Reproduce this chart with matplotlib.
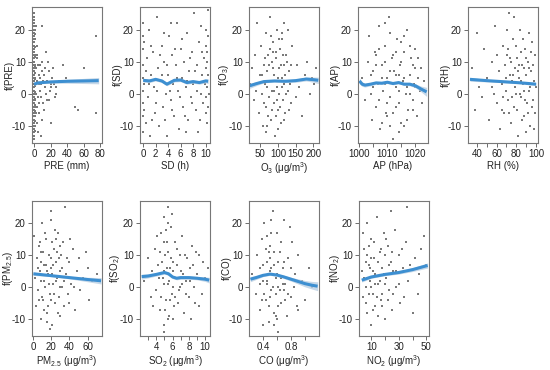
import numpy as np
import matplotlib
matplotlib.use("Agg")
import matplotlib.pyplot as plt

plt.rcParams['font.family'] = ['Liberation Sans', 'DejaVu Sans']
plt.rcParams['mathtext.fontset'] = 'custom'
plt.rcParams['mathtext.rm'] = 'Liberation Sans'
plt.rcParams['mathtext.it'] = 'Liberation Sans'
plt.rcParams['axes.unicode_minus'] = False

# partial residuals (estimated from the figure)
pre_pts = [(0, 25), (0, 24), (0, 23), (0, 22), (0, 21), (0, 20), (0, 19), (0, 18), (0, 17), (0, 16),
           (0, 15), (0, 14), (0, 13), (0, 12), (0, 11), (0, 10), (0, 9), (0, 8), (0, 7), (0, 6),
           (0, 5), (0, 4), (0, 3), (0, 2), (0, 1), (0, 0), (0, -1), (0, -2), (0, -3), (0, -4),
           (0, -5), (0, -6), (0, -7), (0, -8), (0, -9), (0, -10), (0, -11), (0, -12), (0, -13), (0, -14),
           (0.6, 18.5), (0.6, 14.5), (0.6, 11.5), (0.6, 8.5), (0.6, 6.5), (0.6, 4.5), (0.6, 2.5),
           (0.6, 0.5), (0.6, -1.5), (0.6, -3.5), (0.6, -5.5), (0.6, -8.5), (0.6, -11.5),
           (1.5, 17), (1.5, 9), (1.5, 3), (1.5, -2), (1.5, -7), (1.5, 12),
           (2, 21), (3, 12), (5, 9), (6, 3), (7, 5), (8, -1), (9, 21), (10, 10), (11, -3), (12, 6),
           (14, 0), (15, 13), (16, 4), (17, 10), (18, -2), (19, 1), (20, -9), (22, 5), (24, 3),
           (25, -1), (27, 2), (30, 4), (35, 9), (38, 5), (50, -4), (53, -5), (60, 8), (75, 18),
           (75, -6), (5, -12), (8, -13), (10, -8), (4, -4), (6, -3), (13, 2), (3, 15), (2, -6),
           (7, 1), (9, 7), (12, -5), (18, 7), (21, 2),
           (1, 20), (1, 5), (1, -4), (1, -10), (2.5, 8), (2.5, 0), (3.5, 4), (4, 11), (4.5, -1),
           (5.5, 6), (6.5, -6), (7.5, 9), (8.5, 3), (3, -9), (11, 4), (13, 8), (16, -2), (20, 3),
           (23, 8), (26, 0)]
sd_pts = [(0, 22), (0, 18), (0, 14), (0, 9), (0, 5), (0, 1), (0, -3), (0, -7), (0, -12), (0.2, 16),
          (0.2, 3), (0.2, -5), (0.6, 11), (0.8, -1), (1, 20), (1.2, 6), (1.4, -8), (1.6, 13), (1.8, 2),
          (2, -3), (2.2, 24), (2.4, 8), (2.6, -10), (2.8, 4), (3, 15), (3.2, -4), (3.4, 10), (3.6, 0),
          (3.8, -13), (4, 6), (4.2, 18), (4.4, -2), (4.6, 12), (4.8, 3), (5, -7), (5.2, 9), (5.4, 22),
          (5.6, 1), (5.8, -11), (6, 14), (6.2, 5), (6.4, -4), (6.6, 10), (6.8, 2), (7, 19), (7.2, -8),
          (7.4, 7), (7.6, -1), (7.8, 13), (8, 3), (8.2, 25), (8.4, -5), (8.6, 9), (8.8, -12), (9, 16),
          (9.2, 0), (9.4, 6), (9.6, -3), (9.8, 11), (10, 20), (10, 15), (10, 8), (10, 4), (10, -1),
          (10, -6), (10.2, 13), (10.2, 2), (10.2, -9), (10.4, 18), (10.4, 26), (10.4, 6), (10.4, -4),
          (0.4, 7), (0.4, -9), (1, 3), (1.3, 15), (1.9, -6), (2.3, 1), (2.7, 12), (3.1, 6), (3.5, -8),
          (3.9, 9), (4.3, 1), (4.7, -5), (5.1, 14), (5.5, 5), (5.9, -1), (6.3, 17), (6.7, -7), (7.1, 4),
          (7.5, 11), (7.9, -3), (8.3, 7), (8.7, 1), (9.1, -8), (9.5, 13), (9.9, 3), (10.3, 10),
          (1.1, -13), (4.5, 22), (6.9, -12), (9.3, 21), (3.3, 19), (10.5, 0)]
o3_pts = [(22, 3), (27, 8), (31, -2), (35, 12), (38, 1), (42, 22), (45, -6), (48, 6), (52, 15), (55, 0),
          (58, -10), (60, 9), (62, 3), (65, 19), (67, -4), (70, 7), (72, 12), (74, -1), (76, 24), (78, 4),
          (80, -8), (82, 10), (84, 1), (86, 16), (88, -3), (90, 6), (92, -13), (94, 11), (96, 2), (98, 20),
          (100, -5), (102, 8), (104, 0), (106, 14), (108, -9), (110, 5), (112, 17), (114, -2), (116, 9),
          (118, 3), (120, -6), (124, 12), (128, 1), (132, 7), (136, -3), (140, 15), (145, 4), (150, -1),
          (155, 9), (160, 2), (168, -7), (175, 6), (182, 10), (190, 0), (196, 5), (202, 3), (208, 8),
          (128, 20), (85, 13), (66, -12), (95, -7), (118, 22),
          (55, 6), (60, -3), (64, 11), (68, 2), (72, -7), (75, 9), (78, 14), (81, 4), (84, -5), (87, 8),
          (90, 1), (93, 13), (96, -2), (99, 5), (102, 17), (105, -4), (108, 9), (111, 2), (114, 12),
          (117, -8), (120, 6), (123, 0), (126, 10), (130, -5), (134, 3), (138, 9), (70, -10), (100, -11),
          (110, 19), (80, 18)]
ap_pts = [(1001, 5), (1002, -2), (1003, 10), (1003.5, 18), (1004, 0), (1004.5, -8), (1005, 7), (1005.5, 13),
          (1006, -4), (1006.5, 3), (1007, 21), (1007.5, -11), (1008, 9), (1008.5, 1), (1009, 15), (1009.5, -6),
          (1010, 5), (1010.5, 24), (1011, -1), (1011.5, 11), (1012, -14), (1012.5, 7), (1013, 2), (1013.5, 17),
          (1014, -3), (1014.5, 9), (1015, -9), (1015.5, 4), (1016, 13), (1016.5, 0), (1017, 20), (1017.5, -5),
          (1018, 6), (1018.5, 11), (1019, -2), (1019.5, 3), (1020, 14), (1020.5, -7), (1021, 5), (1021.5, 1),
          (1022, 8), (1022.5, -3), (1023, 4), (1008, -9), (1012, 12), (1010, -3), (1013, 6), (1016, -10),
          (1011, 19), (1015, 16), (1006, 9), (1019, 9), (1014, 1), (1009, 3), (1012, -6), (1017, 2),
          (1005, 2), (1006, 12), (1007, -2), (1008, 5), (1009, 10), (1010, -7), (1011, 7), (1012, 3),
          (1013, 13), (1013, -4), (1014, 6), (1015, 10), (1016, 5), (1017, -8), (1018, 15), (1018, 0),
          (1019, -5), (1020, 8), (1020, 2), (1011, -10), (1009, 22), (1014, -12), (1016, 18), (1007, 14),
          (1021, 11), (1004, 6)]
rh_pts = [(35, 8), (38, -5), (40, 19), (42, 2), (45, -1), (47, 14), (50, 5), (52, -8), (55, 10), (57, 0),
          (58, 21), (60, -3), (62, 7), (63, -11), (65, 3), (66, 15), (68, -6), (69, 9), (70, 1), (71, 12),
          (72, -2), (73, 25), (74, 6), (75, -9), (76, 4), (77, 17), (78, -4), (79, 8), (80, 0), (81, 11),
          (82, -13), (83, 5), (84, 20), (85, -1), (86, 9), (87, 3), (88, -7), (89, 14), (90, 6), (91, -3),
          (92, 10), (93, 1), (94, -10), (95, 7), (96, 16), (97, -2), (98, 4), (99, 12), (99, -6), (100, 2),
          (85, 13), (78, 24), (90, -12), (67, -1), (74, 11), (82, 7), (88, 1), (93, 19),
          (70, 5), (72, 14), (73, -6), (75, 10), (76, -1), (77, 6), (79, 2), (80, 15), (81, -5), (83, 9),
          (84, 0), (85, 4), (86, -8), (87, 17), (88, 8), (89, -2), (90, 11), (91, 3), (92, -6), (93, 8),
          (94, 2), (95, 13), (96, -4), (97, 9), (60, 12), (65, -5), (55, 2), (71, 20), (98, -11)]
pm_pts = [(1, 16), (2, 3), (3, -6), (4, 9), (5, -1), (6, 13), (7, 5), (8, -10), (9, 2), (10, 20), (11, -4),
          (12, 7), (13, 0), (14, 15), (15, -8), (16, 4), (17, 10), (18, -2), (19, 24), (20, 6), (21, -12),
          (22, 1), (23, 12), (24, -5), (25, 8), (26, 3), (27, 17), (28, -3), (29, 5), (30, -9), (31, 10),
          (32, 0), (33, 14), (34, -6), (35, 25), (36, 4), (38, -2), (40, 8), (42, 1), (44, 12), (46, -7),
          (48, 5), (50, 9), (52, -1), (55, 3), (58, 11), (60, 6), (62, -4), (65, 2), (70, 4), (14, 7),
          (24, 18), (8, 11), (18, -13), (28, 9), (12, -7), (21, 4),
          (5, 6), (6, -4), (7, 14), (9, 8), (10, -3), (11, 11), (12, 2), (13, 17), (15, 5), (16, -6),
          (17, 1), (19, 9), (20, -4), (21, 14), (22, 7), (23, -2), (25, 2), (26, 11), (27, -8), (29, 0),
          (30, 13), (32, 6), (34, 2), (37, 9), (39, -5), (41, 15), (45, 0), (20, 21), (15, -11), (25, 15)]
so2_pts = [(2.5, 2), (3, 9), (3.3, -3), (3.5, 5), (3.8, 12), (4, -1), (4.2, 7), (4.4, -7), (4.6, 17), (4.8, 3),
           (5, 22), (5, -12), (5.1, 10), (5.2, -4), (5.3, 14), (5.4, 1), (5.5, 25), (5.6, -9), (5.7, 6),
           (5.8, 19), (5.9, -2), (6, 8), (6.2, -6), (6.4, 3), (6.6, 12), (6.8, -1), (7, 5), (7.2, 16),
           (7.4, -8), (7.6, 2), (7.8, 9), (8, -3), (8.2, 6), (8.4, 13), (8.6, 0), (8.8, -5), (9, 4),
           (9.3, 10), (9.6, -2), (10, 3), (10.3, 6), (4.9, -14), (5.4, 20), (6.1, -10), (4.5, 11), (6.9, 0),
           (7.5, 10), (8.3, -10), (5.0, 5), (6.3, 14),
           (4.3, 3), (4.6, -3), (4.7, 8), (4.9, 14), (5, 1), (5.1, -7), (5.2, 18), (5.3, 6), (5.4, -10),
           (5.5, 11), (5.6, 2), (5.7, -4), (5.8, 9), (6, 0), (6.1, 5), (6.3, -3), (6.5, 7), (6.7, -5),
           (6.9, 10), (7.1, 1), (7.3, 4), (7.7, -2), (8.1, 2), (8.5, 7), (8.9, 11), (9.2, -6), (9.8, 8),
           (3.6, -6), (4.1, 16), (5.9, 23)]
co_pts = [(0.25, 4), (0.3, -2), (0.32, 10), (0.35, -7), (0.38, 15), (0.4, 2), (0.42, 20), (0.44, -4),
          (0.46, 8), (0.48, -11), (0.5, 5), (0.5, 13), (0.52, -1), (0.54, 24), (0.55, 7), (0.56, -8),
          (0.58, 3), (0.6, 17), (0.61, -14), (0.62, 0), (0.64, 11), (0.66, -5), (0.68, 6), (0.7, 21),
          (0.72, 1), (0.74, -9), (0.76, 9), (0.8, -3), (0.82, 14), (0.85, 4), (0.88, -6), (0.9, 10),
          (0.95, 2), (1.0, -4), (1.05, 6), (1.1, 0), (0.45, 1), (0.52, 17), (0.58, -2), (0.48, 11),
          (0.65, 3), (0.4, -12), (0.7, -1), (0.55, -12), (0.78, 19), (0.36, 6),
          (0.4, 7), (0.42, -2), (0.44, 12), (0.46, 2), (0.48, -6), (0.5, 9), (0.5, -3), (0.52, 6),
          (0.54, 0), (0.56, 11), (0.58, -9), (0.6, 4), (0.62, 8), (0.62, -6), (0.64, -1), (0.66, 14),
          (0.68, 1), (0.7, 8), (0.72, -4), (0.74, 3), (0.76, -2), (0.8, 6), (0.84, 0), (0.9, -7),
          (0.35, 1), (0.38, -4), (0.6, -10), (0.52, 21), (0.46, 16)]
no2_pts = [(3, 5), (4, -3), (5, 12), (6, 0), (6.5, 20), (7, -8), (8, 7), (9, 2), (9.5, -12), (10, 15),
           (11, -2), (12, 9), (12.5, 4), (13, -6), (14, 22), (15, 1), (16, 11), (17, -4), (18, 6), (19, 17),
           (20, -10), (21, 3), (22, 13), (23, -1), (24, 8), (25, -7), (26, 5), (27, 18), (28, 0), (30, 10),
           (31, -5), (33, 6), (35, 14), (37, 2), (40, -8), (42, 9), (45, 4), (48, 16), (50, 7), (8, 13),
           (11, 5), (15, -9), (6, 8), (13, 1), (20, 10), (18, -2), (24, 24), (36, 25),
           (5, 3), (6, -5), (7, 10), (8, -2), (9, 6), (10, 0), (10, 9), (11, -7), (12, 14), (13, 4),
           (14, -3), (15, 8), (16, 2), (17, 12), (18, -6), (19, 4), (20, 1), (21, 15), (22, -4), (23, 7),
           (25, 11), (26, -2), (28, 5), (30, 1), (32, 12), (34, -3), (38, 7), (44, -2), (46, 12), (4, 17)]

# smooth terms: x, fit, half width of band
pre_fit = ([0, 5, 10, 20, 40, 60, 78], [3.0, 3.4, 3.5, 3.7, 3.9, 4.0, 4.1], [0.4, 0.3, 0.3, 0.4, 0.6, 0.8, 1.0])
sd_fit = ([0, 1, 2, 3, 3.8, 5, 6, 7, 8, 9, 10, 10.4], [4.2, 4.0, 4.5, 4.0, 3.0, 4.2, 4.3, 3.5, 3.8, 3.5, 4.0, 3.9],
          [0.6, 0.5, 0.5, 0.5, 0.5, 0.5, 0.5, 0.5, 0.5, 0.5, 0.6, 0.7])
o3_fit = ([20, 40, 60, 90, 120, 150, 180, 200, 214], [2.5, 3.2, 3.8, 4.0, 3.9, 4.1, 4.6, 4.4, 4.2],
          [0.8, 0.6, 0.4, 0.3, 0.4, 0.5, 0.6, 0.8, 1.0])
ap_fit = ([1000, 1001, 1002, 1004, 1006, 1008, 1010, 1012, 1014, 1016, 1018, 1020, 1022, 1024],
          [4.0, 3.0, 2.7, 3.0, 3.4, 3.3, 3.6, 3.2, 3.5, 3.0, 3.0, 2.5, 1.5, 0.6],
          [0.9, 0.7, 0.6, 0.5, 0.4, 0.4, 0.4, 0.4, 0.4, 0.4, 0.5, 0.6, 0.9, 1.4])
rh_fit = ([33, 50, 70, 85, 100], [4.5, 4.1, 3.7, 3.4, 3.0], [0.6, 0.4, 0.3, 0.3, 0.5])
pm_fit = ([0, 20, 40, 60, 75], [4.2, 3.6, 3.0, 2.4, 2.0], [0.5, 0.3, 0.4, 0.7, 1.0])
so2_fit = ([2.2, 3, 4, 5, 5.5, 6, 6.5, 7, 8, 9, 10, 10.5], [3.3, 3.5, 4.0, 4.6, 4.2, 3.2, 2.8, 3.0, 3.0, 2.8, 2.5, 2.2],
           [0.8, 0.6, 0.5, 0.5, 0.5, 0.5, 0.5, 0.5, 0.5, 0.5, 0.7, 0.9])
co_fit = ([0.22, 0.3, 0.4, 0.5, 0.6, 0.7, 0.8, 0.9, 1.0, 1.1, 1.18], [2.5, 3.0, 3.7, 4.1, 3.8, 3.2, 2.5, 1.8, 1.1, 0.6, 0.3],
          [0.8, 0.6, 0.4, 0.4, 0.4, 0.5, 0.6, 0.8, 1.0, 1.2, 1.4])
no2_fit = ([3, 10, 20, 30, 40, 51], [2.2, 3.2, 4.0, 4.6, 5.5, 6.8], [0.6, 0.4, 0.4, 0.5, 0.6, 0.8])

panels = [
    dict(pts=pre_pts, fit=pre_fit, yl='f(PRE)', xl='PRE (mm)', xlim=(-2.5, 82),
         ticks=[0, 20, 40, 60, 80], labels=['0', '20', '40', '60', '80']),
    dict(pts=sd_pts, fit=sd_fit, yl='f(SD)', xl='SD (h)', xlim=(-0.5, 10.7),
         ticks=[0, 2, 4, 6, 8, 10], labels=['0', '2', '4', '6', '8', '10']),
    dict(pts=o3_pts, fit=o3_fit, yl='f(O$_3$)', xl='O$_3$ (μg/m$^3$)', xlim=(18, 216),
         ticks=[50, 100, 150, 200], labels=['50', '100', '150', '200']),
    dict(pts=ap_pts, fit=ap_fit, yl='f(AP)', xl='AP (hPa)', xlim=(999.5, 1024.5),
         ticks=[1000, 1005, 1010, 1015, 1020], labels=['1000', '', '1010', '', '1020']),
    dict(pts=rh_pts, fit=rh_fit, yl='f(RH)', xl='RH (%)', xlim=(31, 102),
         ticks=[40, 50, 60, 70, 80, 90, 100], labels=['40', '', '60', '', '80', '', '100']),
    dict(pts=pm_pts, fit=pm_fit, yl='f(PM$_{2.5}$)', xl='PM$_{2.5}$ (μg/m$^3$)', xlim=(-1.5, 76),
         ticks=[0, 20, 40, 60], labels=['0', '20', '40', '60']),
    dict(pts=so2_pts, fit=so2_fit, yl='f(SO$_2$)', xl='SO$_2$ (μg/m$^3$)', xlim=(2, 10.6),
         ticks=[3, 4, 5, 6, 7, 8, 9, 10], labels=['', '4', '', '6', '', '8', '', '10']),
    dict(pts=co_pts, fit=co_fit, yl='f(CO)', xl='CO (μg/m$^3$)', xlim=(0.2, 1.2),
         ticks=[0.4, 0.6, 0.8, 1.0], labels=['0.4', '', '0.8', '']),
    dict(pts=no2_pts, fit=no2_fit, yl='f(NO$_2$)', xl='NO$_2$ (μg/m$^3$)', xlim=(1, 52),
         ticks=[10, 20, 30, 40, 50], labels=['10', '', '30', '', '50']),
]

fig = plt.figure(figsize=(5.5, 3.7), dpi=100)
lefts_px = [32, 140, 249, 358, 468, 32, 140, 249, 359]
W, H = 550, 370

for i, p in enumerate(panels):
    top, bot = (7, 143) if i < 5 else (201, 336)
    ax = fig.add_axes([lefts_px[i] / W, (H - bot) / H, 70 / W, (bot - top) / H])
    pts = np.array(p['pts'], dtype=float)
    ax.scatter(pts[:, 0], pts[:, 1], s=1.8, marker='s', color='#7a7a7a', linewidths=0)
    fx, fy, fw = (np.array(a, dtype=float) for a in p['fit'])
    ax.fill_between(fx, fy - fw, fy + fw, color='#b9cfe3', alpha=0.8, linewidth=0)
    ax.plot(fx, fy, color='#3d8fd1', lw=2.2, solid_capstyle='butt')
    ax.set_xlim(*p['xlim'])
    ax.set_ylim(-15.3, 27)
    ax.set_yticks([-10, 0, 10, 20])
    ax.set_xticks(p['ticks'])
    ax.set_xticklabels(p['labels'])
    ax.tick_params(direction='out', length=3, width=0.6, labelsize=7, pad=1.5,
                   colors='#555555', labelcolor='#222222')
    for s in ax.spines.values():
        s.set_color('#777777')
        s.set_linewidth(0.8)
    ax.set_ylabel(p['yl'], fontsize=7, color='#222222')
    ax.yaxis.set_label_coords(-0.25, 0.5)
    ax.set_xlabel(p['xl'], fontsize=7, labelpad=1, color='#222222')

fig.savefig('out.png', dpi=100)
